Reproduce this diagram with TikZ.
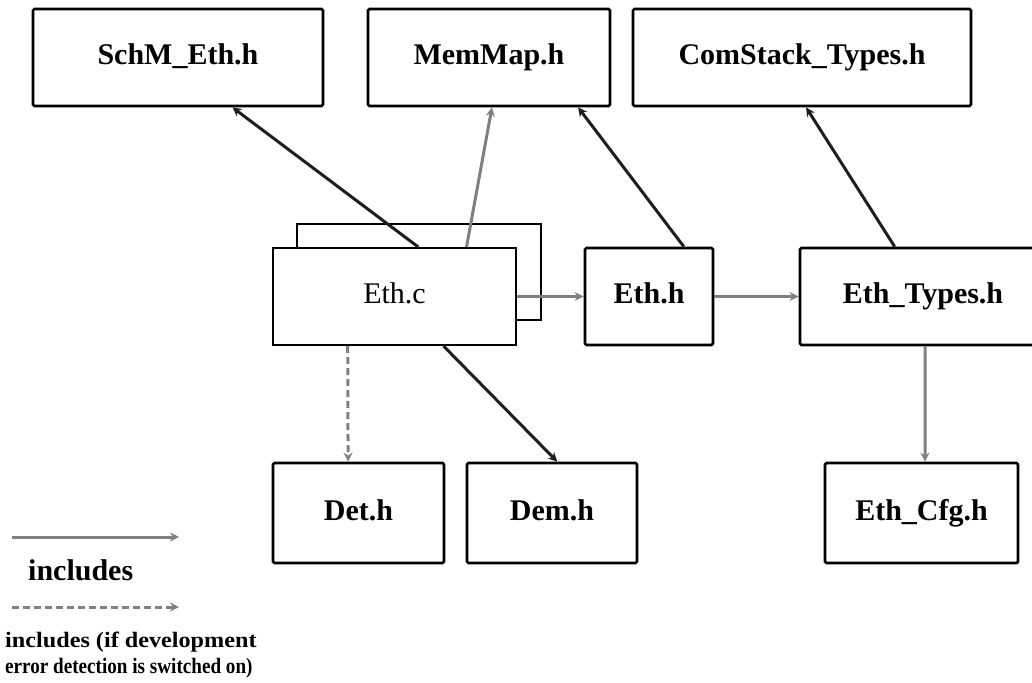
\documentclass[tikz,border=0pt]{standalone}
\usepackage{fontspec}
\setmainfont{Liberation Serif}
\usetikzlibrary{arrows.meta,calc}
\definecolor{incgray}{RGB}{128,128,128}
\definecolor{incdark}{RGB}{30,30,30}
\tikzset{
  filebox/.style={draw=black, line width=2.8pt, rounded corners=1.5pt, fill=white,
    inner sep=0pt, text height=20pt, text depth=6pt,
    font=\fontsize{30}{32}\selectfont\bfseries},
  srcbox/.style={draw=black, line width=2pt, fill=white, inner sep=0pt,
    text height=20pt, text depth=6pt, font=\fontsize{30}{32}\selectfont},
  tip/.style={-{Stealth[length=9pt,width=9pt,inset=3pt]}},
  incl/.style={tip, draw=incgray, line width=3pt},
  incldark/.style={tip, draw=incdark, line width=3pt},
  incldash/.style={tip, draw=incgray, line width=3pt, dash pattern=on 7pt off 4pt},
  legendtext/.style={anchor=base west, inner sep=0pt, font=\fontsize{22}{24}\selectfont\bfseries}
}
\begin{document}
\begin{tikzpicture}[x=1pt,y=-1pt]
\useasboundingbox[fill=white] (0,0) rectangle (1032,682);

% header files at the top
\node[filebox, minimum width=290pt, minimum height=97pt] (schm) at (178,57.5) {SchM\_Eth.h};
\node[filebox, minimum width=242pt, minimum height=97pt] (memmap) at (489,57.5) {MemMap.h};
\node[filebox, minimum width=338pt, minimum height=97pt] (comstack) at (802,57.5) {ComStack\_Types.h};

% the module source, drawn as a small stack
\node[draw=black, line width=2.8pt, fill=white, minimum width=244pt, minimum height=96pt] (ethcback) at (419,272) {};
\node[srcbox, minimum width=243pt, minimum height=97pt] (ethc) at (394.5,296.5) {Eth.c};

% middle row
\node[filebox, minimum width=128pt, minimum height=97pt] (ethh) at (649,296.5) {Eth.h};
\node[filebox, minimum width=246pt, minimum height=97pt] (ethtypes) at (923,296.5) {Eth\_Types.h};

% bottom row
\node[filebox, minimum width=171pt, minimum height=100pt] (det) at (358.5,513) {Det.h};
\node[filebox, minimum width=170pt, minimum height=100pt] (dem) at (552,513) {Dem.h};
\node[filebox, minimum width=193pt, minimum height=100pt] (cfg) at (921.5,513) {Eth\_Cfg.h};

% include relations
\draw[incldark] ($(ethc.north west)!0.597!(ethc.north east)$) -- ($(schm.south west)!0.686!(schm.south east)$);
\draw[incl] ($(ethc.north west)!0.794!(ethc.north east)$) -- ($(memmap.south west)!0.512!(memmap.south east)$);
\draw[incldark] ($(ethh.north west)!0.766!(ethh.north east)$) -- ($(memmap.south west)!0.864!(memmap.south east)$);
\draw[incldark] ($(ethtypes.north west)!0.386!(ethtypes.north east)$) -- ($(comstack.south west)!0.512!(comstack.south east)$);
\draw[incl] (ethc.east) -- (ethh.west);
\draw[incl] (ethh.east) -- (ethtypes.west);
\draw[incldash] ($(ethc.south west)!0.309!(ethc.south east)$) -- ($(det.north west)!0.44!(det.north east)$);
\draw[incldark] ($(ethc.south west)!0.70!(ethc.south east)$) -- ($(dem.north west)!0.53!(dem.north east)$);
\draw[incl] ($(ethtypes.south west)!0.508!(ethtypes.south east)$) -- ($(cfg.north west)!0.518!(cfg.north east)$);

% legend
\coordinate (l1a) at (12,537);
\coordinate (l1b) at (179,537);
\coordinate (l2a) at (12,607);
\coordinate (l2b) at (179,607);
\draw[incl] (l1a) -- (l1b);
\draw[incldash] (l2a) -- (l2b);
\node[legendtext, font=\fontsize{30}{32}\selectfont\bfseries] (leg1) at (28,580) {includes};
\node[legendtext] (leg2) at (5,647) {\scalebox{1.1}[1]{includes (if development}};
\node[legendtext] (leg3) at (5,673) {\scalebox{0.87}[1]{error detection is switched on)}};
\end{tikzpicture}
\end{document}
